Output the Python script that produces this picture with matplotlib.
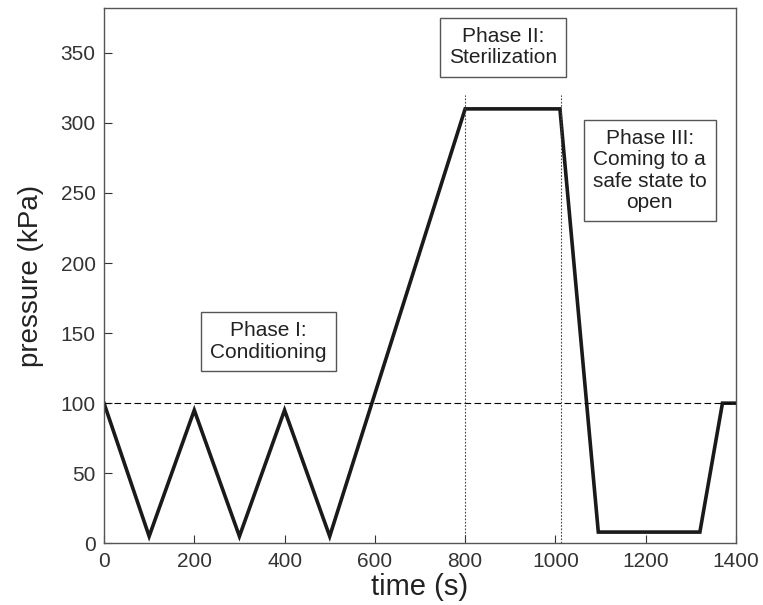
import numpy as np
import matplotlib.pyplot as plt

plt.rcParams['font.family'] = ['Liberation Sans', 'DejaVu Sans']

# DATA
time_s = [0, 100, 200, 300, 400, 500, 800, 1010, 1095, 1320, 1370, 1400]
pressure_kpa = [100, 5, 95, 5, 95, 5, 310, 310, 8, 8, 100, 100]
phase_marks = [800, 1012]          # dotted vertical lines
atm_level = 100                    # dashed reference line
xticks = [0, 200, 400, 600, 800, 1000, 1200, 1400]
yticks = [0, 50, 100, 150, 200, 250, 300, 350]
phase_labels = ['Phase I:\nConditioning',
                'Phase II:\nSterilization',
                'Phase III:\nComing to a\nsafe state to\nopen']
phase_pos = [(364, 144), (884, 354), (1209, 266)]

# FIGURE
fig = plt.figure(figsize=(7.63, 6.05), dpi=100)
ax = fig.add_axes([0.1363, 0.102, 0.8283, 0.8848])

ax.plot(time_s, pressure_kpa, color='#1a1a1a', lw=2.6, solid_joinstyle='miter')
ax.axhline(atm_level, color='black', lw=0.8, ls=(0, (6, 3)))
for xm in phase_marks:
    ax.plot([xm, xm], [0, 320], color='#444444', lw=0.8, ls=(0, (1.5, 1.5)))

for txt, (xx, yy) in zip(phase_labels, phase_pos):
    ax.text(xx, yy, txt, ha='center', va='center', fontsize=15, color='#222222',
            linespacing=1.15,
            bbox=dict(boxstyle='square,pad=0.45', fc='white', ec='#555555', lw=1.0))

ax.set_xlim(0, 1400)
ax.set_ylim(0, 382)
ax.set_xticks(xticks)
ax.set_yticks(yticks)
ax.tick_params(direction='in', length=6, labelsize=15, colors='#333333',
               top=False, right=False, pad=6)
for s in ax.spines.values():
    s.set_color('#555555')
    s.set_linewidth(1.0)

ax.set_xlabel('time (s)', fontsize=21, color='#222222', labelpad=2)
ax.set_ylabel('pressure (kPa)', fontsize=20, color='#222222', labelpad=12)

fig.savefig('out.png', dpi=100)
